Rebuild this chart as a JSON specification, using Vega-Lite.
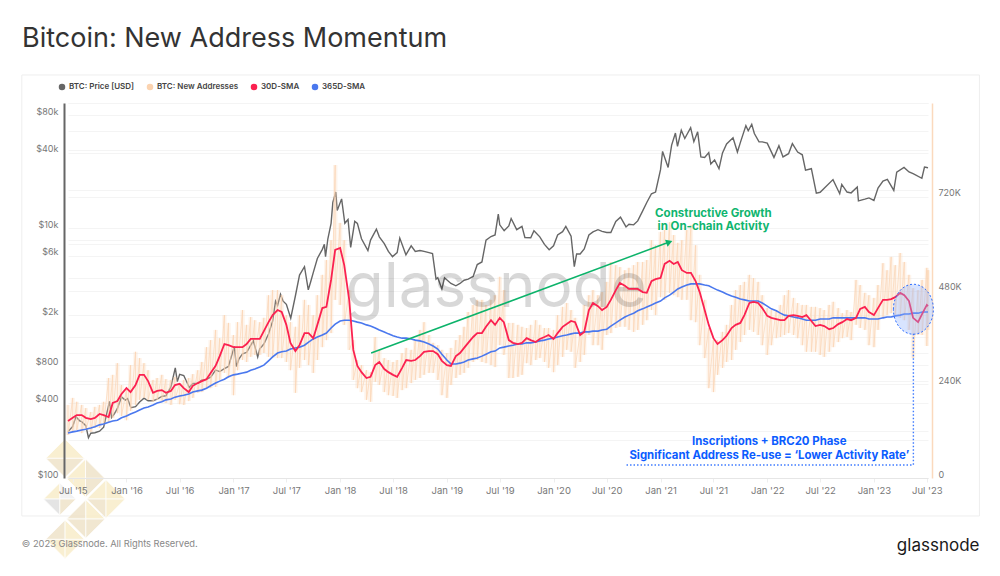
{"$schema":"https://vega.github.io/schema/vega-lite/v6.json","width":860,"height":375,"autosize":"none","padding":{"left":68,"top":103,"right":72,"bottom":98},"background":"white","config":{"view":{"stroke":null},"font":"Inter"},
"title":{"text":"Bitcoin: New Address Momentum","anchor":"start","frame":"group","dx":-46,"offset":21,"fontSize":27,"fontWeight":400,"color":"#333333","font":"Inter"},
"datasets":{
"price":[{"d":"2015-06-15","p":235},{"d":"2015-07-01","p":258},{"d":"2015-07-12","p":310},{"d":"2015-07-24","p":288},{"d":"2015-08-01","p":282},{"d":"2015-08-15","p":262},{"d":"2015-08-24","p":210},{"d":"2015-09-01","p":228},{"d":"2015-09-15","p":230},{"d":"2015-10-01","p":237},{"d":"2015-10-15","p":255},{"d":"2015-11-04","p":410},{"d":"2015-11-11","p":305},{"d":"2015-11-20","p":325},{"d":"2015-12-01","p":360},{"d":"2015-12-15","p":445},{"d":"2015-12-28","p":420},{"d":"2016-01-05","p":432},{"d":"2016-01-16","p":365},{"d":"2016-02-01","p":372},{"d":"2016-02-15","p":405},{"d":"2016-03-01","p":435},{"d":"2016-03-15","p":415},{"d":"2016-04-01","p":415},{"d":"2016-04-15","p":428},{"d":"2016-05-01","p":450},{"d":"2016-05-15","p":455},{"d":"2016-06-01","p":535},{"d":"2016-06-16","p":760},{"d":"2016-06-23","p":590},{"d":"2016-07-01","p":675},{"d":"2016-07-15","p":660},{"d":"2016-08-03","p":530},{"d":"2016-08-15","p":570},{"d":"2016-09-01","p":572},{"d":"2016-09-15","p":608},{"d":"2016-10-01","p":615},{"d":"2016-10-15","p":640},{"d":"2016-11-01","p":730},{"d":"2016-11-15","p":710},{"d":"2016-12-01","p":750},{"d":"2016-12-15","p":780},{"d":"2017-01-04","p":1130},{"d":"2017-01-11","p":780},{"d":"2017-01-20","p":900},{"d":"2017-02-01","p":985},{"d":"2017-02-15","p":1010},{"d":"2017-03-10","p":1250},{"d":"2017-03-25","p":930},{"d":"2017-04-01","p":1080},{"d":"2017-04-15","p":1180},{"d":"2017-05-01","p":1420},{"d":"2017-05-15","p":1800},{"d":"2017-05-25","p":2600},{"d":"2017-06-01","p":2400},{"d":"2017-06-11","p":2950},{"d":"2017-06-20","p":2600},{"d":"2017-07-01","p":2450},{"d":"2017-07-16","p":1900},{"d":"2017-08-01","p":2870},{"d":"2017-08-15","p":4200},{"d":"2017-09-01","p":4900},{"d":"2017-09-14","p":3200},{"d":"2017-09-22","p":3700},{"d":"2017-10-01","p":4400},{"d":"2017-10-15","p":5700},{"d":"2017-11-01","p":6750},{"d":"2017-11-08","p":7400},{"d":"2017-11-12","p":5900},{"d":"2017-11-20","p":8200},{"d":"2017-12-01","p":10900},{"d":"2017-12-07","p":16000},{"d":"2017-12-17","p":19400},{"d":"2017-12-22","p":13800},{"d":"2018-01-06","p":17100},{"d":"2018-01-17","p":10900},{"d":"2018-01-28","p":11700},{"d":"2018-02-06","p":7000},{"d":"2018-02-20","p":11300},{"d":"2018-03-01","p":10900},{"d":"2018-03-15","p":8200},{"d":"2018-04-06","p":6600},{"d":"2018-04-15","p":8000},{"d":"2018-05-05","p":9800},{"d":"2018-05-15","p":8500},{"d":"2018-06-01","p":7500},{"d":"2018-06-15","p":6500},{"d":"2018-06-29","p":5900},{"d":"2018-07-15","p":6350},{"d":"2018-07-24","p":8300},{"d":"2018-08-14","p":6100},{"d":"2018-09-01","p":7200},{"d":"2018-09-15","p":6500},{"d":"2018-10-01","p":6600},{"d":"2018-10-15","p":6500},{"d":"2018-11-01","p":6350},{"d":"2018-11-13","p":6250},{"d":"2018-11-25","p":3900},{"d":"2018-12-01","p":4000},{"d":"2018-12-15","p":3250},{"d":"2018-12-24","p":4000},{"d":"2019-01-15","p":3600},{"d":"2019-02-01","p":3450},{"d":"2019-02-15","p":3600},{"d":"2019-03-01","p":3820},{"d":"2019-03-15","p":3900},{"d":"2019-04-01","p":4100},{"d":"2019-04-15","p":5100},{"d":"2019-05-01","p":5350},{"d":"2019-05-15","p":8000},{"d":"2019-06-01","p":8550},{"d":"2019-06-15","p":8800},{"d":"2019-06-26","p":12900},{"d":"2019-07-01","p":10600},{"d":"2019-07-16","p":9500},{"d":"2019-08-01","p":10400},{"d":"2019-08-09","p":11900},{"d":"2019-08-28","p":9700},{"d":"2019-09-15","p":10300},{"d":"2019-09-25","p":8400},{"d":"2019-10-15","p":8350},{"d":"2019-10-26","p":9500},{"d":"2019-11-15","p":8500},{"d":"2019-12-01","p":7400},{"d":"2019-12-17","p":6700},{"d":"2020-01-01","p":7200},{"d":"2020-01-15","p":8800},{"d":"2020-02-01","p":9350},{"d":"2020-02-12","p":10300},{"d":"2020-03-01","p":8600},{"d":"2020-03-12","p":4900},{"d":"2020-03-20","p":6200},{"d":"2020-04-01","p":6200},{"d":"2020-04-15","p":6800},{"d":"2020-05-01","p":8800},{"d":"2020-05-15","p":9300},{"d":"2020-06-01","p":9700},{"d":"2020-06-15","p":9400},{"d":"2020-07-01","p":9200},{"d":"2020-07-15","p":9200},{"d":"2020-08-01","p":11300},{"d":"2020-08-17","p":12200},{"d":"2020-09-05","p":10200},{"d":"2020-09-15","p":10700},{"d":"2020-10-01","p":10600},{"d":"2020-10-15","p":11400},{"d":"2020-11-01","p":13700},{"d":"2020-11-15","p":16000},{"d":"2020-12-01","p":18800},{"d":"2020-12-15","p":19400},{"d":"2021-01-01","p":29300},{"d":"2021-01-08","p":41000},{"d":"2021-01-27","p":30500},{"d":"2021-02-08","p":46000},{"d":"2021-02-21","p":57500},{"d":"2021-02-28","p":45000},{"d":"2021-03-13","p":60500},{"d":"2021-03-25","p":52000},{"d":"2021-04-14","p":63500},{"d":"2021-04-25","p":49000},{"d":"2021-05-08","p":58800},{"d":"2021-05-19","p":37000},{"d":"2021-06-01","p":36700},{"d":"2021-06-15","p":40100},{"d":"2021-06-22","p":32500},{"d":"2021-07-05","p":35000},{"d":"2021-07-20","p":29800},{"d":"2021-08-01","p":39900},{"d":"2021-08-15","p":47000},{"d":"2021-09-06","p":52700},{"d":"2021-09-21","p":40500},{"d":"2021-10-01","p":48200},{"d":"2021-10-20","p":65900},{"d":"2021-10-28","p":60000},{"d":"2021-11-09","p":67500},{"d":"2021-11-18","p":57000},{"d":"2021-12-04","p":49000},{"d":"2021-12-15","p":48900},{"d":"2022-01-01","p":47700},{"d":"2022-01-24","p":36700},{"d":"2022-02-10","p":45500},{"d":"2022-02-24","p":37000},{"d":"2022-03-15","p":39300},{"d":"2022-03-28","p":47300},{"d":"2022-04-15","p":40500},{"d":"2022-05-01","p":38500},{"d":"2022-05-12","p":29000},{"d":"2022-06-01","p":29800},{"d":"2022-06-18","p":19000},{"d":"2022-07-01","p":19300},{"d":"2022-07-15","p":20800},{"d":"2022-08-14","p":24400},{"d":"2022-09-06","p":18800},{"d":"2022-09-13","p":22300},{"d":"2022-10-01","p":19400},{"d":"2022-10-15","p":19100},{"d":"2022-11-05","p":21300},{"d":"2022-11-09","p":16500},{"d":"2022-12-01","p":17000},{"d":"2022-12-15","p":17400},{"d":"2023-01-01","p":16600},{"d":"2023-01-15","p":20900},{"d":"2023-02-01","p":23700},{"d":"2023-02-16","p":24500},{"d":"2023-03-10","p":20000},{"d":"2023-03-20","p":28000},{"d":"2023-04-14","p":30500},{"d":"2023-05-01","p":28100},{"d":"2023-05-15","p":27200},{"d":"2023-06-14","p":25000},{"d":"2023-06-23","p":30700},{"d":"2023-07-01","p":30500},{"d":"2023-07-05","p":30300}],
"addr":[
{"d":"2015-06-15","hi":187000,"lo":110000,"s30":146000,"s365":115000},{"d":"2015-07-01","hi":205000,"lo":118000,"s30":154000,"s365":118000},{"d":"2015-07-15","hi":195000,"lo":123000,"s30":161000,"s365":120000},{"d":"2015-08-01","hi":187000,"lo":115000,"s30":161000,"s365":123000},{"d":"2015-08-15","hi":179000,"lo":123000,"s30":154000,"s365":125000},{"d":"2015-09-01","hi":169000,"lo":118000,"s30":151000,"s365":128000},{"d":"2015-09-15","hi":182000,"lo":128000,"s30":154000,"s365":131000},{"d":"2015-10-01","hi":187000,"lo":128000,"s30":164000,"s365":136000},{"d":"2015-10-15","hi":195000,"lo":136000,"s30":161000,"s365":138000},{"d":"2015-11-01","hi":256000,"lo":141000,"s30":156000,"s365":143000},{"d":"2015-11-15","hi":264000,"lo":154000,"s30":192000,"s365":146000},{"d":"2015-12-01","hi":294000,"lo":166000,"s30":197000,"s365":148000},{"d":"2015-12-15","hi":238000,"lo":159000,"s30":215000,"s365":154000},
{"d":"2016-01-01","hi":225000,"lo":148000,"s30":230000,"s365":159000},{"d":"2016-01-15","hi":289000,"lo":172000,"s30":220000,"s365":164000},{"d":"2016-02-01","hi":323000,"lo":187000,"s30":238000,"s365":169000},{"d":"2016-02-15","hi":307000,"lo":200000,"s30":264000,"s365":174000},{"d":"2016-03-01","hi":294000,"lo":205000,"s30":264000,"s365":179000},{"d":"2016-03-15","hi":276000,"lo":200000,"s30":248000,"s365":182000},{"d":"2016-04-01","hi":251000,"lo":195000,"s30":218000,"s365":187000},{"d":"2016-04-15","hi":256000,"lo":200000,"s30":223000,"s365":192000},{"d":"2016-05-01","hi":264000,"lo":195000,"s30":225000,"s365":195000},{"d":"2016-05-15","hi":253000,"lo":192000,"s30":218000,"s365":200000},{"d":"2016-06-01","hi":251000,"lo":187000,"s30":223000,"s365":202000},{"d":"2016-06-15","hi":259000,"lo":200000,"s30":238000,"s365":207000},{"d":"2016-07-01","hi":243000,"lo":189000,"s30":241000,"s365":210000},{"d":"2016-07-15","hi":251000,"lo":187000,"s30":230000,"s365":212000},{"d":"2016-08-01","hi":256000,"lo":197000,"s30":220000,"s365":215000},{"d":"2016-08-15","hi":266000,"lo":205000,"s30":236000,"s365":220000},{"d":"2016-09-01","hi":276000,"lo":218000,"s30":243000,"s365":223000},{"d":"2016-09-15","hi":297000,"lo":220000,"s30":248000,"s365":225000},{"d":"2016-10-01","hi":335000,"lo":230000,"s30":253000,"s365":230000},{"d":"2016-10-15","hi":353000,"lo":230000,"s30":269000,"s365":236000},{"d":"2016-11-01","hi":379000,"lo":233000,"s30":287000,"s365":243000},{"d":"2016-11-15","hi":358000,"lo":251000,"s30":312000,"s365":248000},{"d":"2016-12-01","hi":417000,"lo":269000,"s30":343000,"s365":253000},{"d":"2016-12-15","hi":397000,"lo":256000,"s30":340000,"s365":259000},
{"d":"2017-01-01","hi":366000,"lo":212000,"s30":335000,"s365":264000},{"d":"2017-01-15","hi":399000,"lo":276000,"s30":335000,"s365":266000},{"d":"2017-02-01","hi":430000,"lo":302000,"s30":335000,"s365":269000},{"d":"2017-02-15","hi":392000,"lo":297000,"s30":343000,"s365":271000},{"d":"2017-03-01","hi":412000,"lo":310000,"s30":356000,"s365":276000},{"d":"2017-03-15","hi":404000,"lo":315000,"s30":356000,"s365":279000},{"d":"2017-04-01","hi":399000,"lo":315000,"s30":356000,"s365":284000},{"d":"2017-04-15","hi":410000,"lo":320000,"s30":376000,"s365":289000},{"d":"2017-05-01","hi":468000,"lo":310000,"s30":399000,"s365":300000},{"d":"2017-05-15","hi":481000,"lo":307000,"s30":417000,"s365":310000},{"d":"2017-06-01","hi":481000,"lo":307000,"s30":430000,"s365":320000},{"d":"2017-06-15","hi":468000,"lo":307000,"s30":425000,"s365":323000},{"d":"2017-07-01","hi":417000,"lo":297000,"s30":392000,"s365":325000},{"d":"2017-07-15","hi":399000,"lo":276000,"s30":346000,"s365":330000},{"d":"2017-08-01","hi":387000,"lo":218000,"s30":325000,"s365":333000},{"d":"2017-08-15","hi":417000,"lo":282000,"s30":340000,"s365":335000},{"d":"2017-09-01","hi":456000,"lo":302000,"s30":371000,"s365":340000},{"d":"2017-09-15","hi":443000,"lo":289000,"s30":371000,"s365":348000},{"d":"2017-10-01","hi":417000,"lo":269000,"s30":358000,"s365":356000},{"d":"2017-10-15","hi":468000,"lo":302000,"s30":392000,"s365":361000},{"d":"2017-11-01","hi":520000,"lo":335000,"s30":435000,"s365":366000},{"d":"2017-11-15","hi":558000,"lo":353000,"s30":438000,"s365":371000},{"d":"2017-12-01","hi":609000,"lo":371000,"s30":507000,"s365":384000},{"d":"2017-12-15","hi":801000,"lo":456000,"s30":584000,"s365":394000},
{"d":"2018-01-01","hi":653000,"lo":443000,"s30":589000,"s365":402000},{"d":"2018-01-15","hi":609000,"lo":392000,"s30":545000,"s365":404000},{"d":"2018-02-01","hi":481000,"lo":328000,"s30":456000,"s365":404000},{"d":"2018-02-15","hi":353000,"lo":251000,"s30":328000,"s365":402000},{"d":"2018-03-01","hi":302000,"lo":230000,"s30":287000,"s365":399000},{"d":"2018-03-15","hi":289000,"lo":220000,"s30":271000,"s365":397000},{"d":"2018-04-01","hi":276000,"lo":200000,"s30":256000,"s365":392000},{"d":"2018-04-15","hi":271000,"lo":195000,"s30":259000,"s365":389000},{"d":"2018-05-01","hi":361000,"lo":246000,"s30":289000,"s365":384000},{"d":"2018-05-15","hi":328000,"lo":238000,"s30":297000,"s365":379000},{"d":"2018-06-01","hi":307000,"lo":220000,"s30":279000,"s365":374000},{"d":"2018-06-15","hi":302000,"lo":212000,"s30":271000,"s365":369000},{"d":"2018-07-01","hi":297000,"lo":210000,"s30":264000,"s365":364000},{"d":"2018-07-15","hi":302000,"lo":205000,"s30":259000,"s365":361000},{"d":"2018-08-01","hi":320000,"lo":225000,"s30":282000,"s365":358000},{"d":"2018-08-15","hi":333000,"lo":230000,"s30":302000,"s365":358000},{"d":"2018-09-01","hi":328000,"lo":243000,"s30":300000,"s365":356000},{"d":"2018-09-15","hi":353000,"lo":251000,"s30":302000,"s365":353000},{"d":"2018-10-01","hi":379000,"lo":256000,"s30":312000,"s365":351000},{"d":"2018-10-15","hi":399000,"lo":264000,"s30":323000,"s365":348000},{"d":"2018-11-01","hi":366000,"lo":269000,"s30":325000,"s365":343000},{"d":"2018-11-15","hi":346000,"lo":269000,"s30":325000,"s365":338000},{"d":"2018-12-01","hi":340000,"lo":251000,"s30":317000,"s365":330000},{"d":"2018-12-15","hi":328000,"lo":212000,"s30":300000,"s365":317000},
{"d":"2019-01-01","hi":320000,"lo":205000,"s30":289000,"s365":302000},{"d":"2019-01-15","hi":333000,"lo":238000,"s30":287000,"s365":292000},{"d":"2019-02-01","hi":353000,"lo":256000,"s30":312000,"s365":292000},{"d":"2019-02-15","hi":366000,"lo":264000,"s30":320000,"s365":294000},{"d":"2019-03-01","hi":387000,"lo":269000,"s30":333000,"s365":297000},{"d":"2019-03-15","hi":425000,"lo":282000,"s30":346000,"s365":302000},{"d":"2019-04-01","hi":443000,"lo":297000,"s30":361000,"s365":305000},{"d":"2019-04-15","hi":456000,"lo":302000,"s30":371000,"s365":307000},{"d":"2019-05-01","hi":456000,"lo":297000,"s30":371000,"s365":312000},{"d":"2019-05-15","hi":443000,"lo":294000,"s30":387000,"s365":317000},{"d":"2019-06-01","hi":456000,"lo":289000,"s30":404000,"s365":323000},{"d":"2019-06-15","hi":468000,"lo":284000,"s30":392000,"s365":325000},{"d":"2019-07-01","hi":515000,"lo":340000,"s30":410000,"s365":333000},{"d":"2019-07-15","hi":481000,"lo":315000,"s30":399000,"s365":335000},{"d":"2019-08-01","hi":397000,"lo":256000,"s30":353000,"s365":338000},{"d":"2019-08-15","hi":397000,"lo":256000,"s30":346000,"s365":340000},{"d":"2019-09-01","hi":392000,"lo":259000,"s30":343000,"s365":343000},{"d":"2019-09-15","hi":387000,"lo":264000,"s30":346000,"s365":343000},{"d":"2019-10-01","hi":384000,"lo":294000,"s30":358000,"s365":346000},{"d":"2019-10-15","hi":392000,"lo":289000,"s30":353000,"s365":346000},{"d":"2019-11-01","hi":404000,"lo":302000,"s30":348000,"s365":348000},{"d":"2019-11-15","hi":392000,"lo":307000,"s30":356000,"s365":351000},{"d":"2019-12-01","hi":384000,"lo":297000,"s30":361000,"s365":353000},{"d":"2019-12-15","hi":384000,"lo":282000,"s30":366000,"s365":356000},
{"d":"2020-01-01","hi":379000,"lo":271000,"s30":356000,"s365":358000},{"d":"2020-01-15","hi":417000,"lo":289000,"s30":371000,"s365":361000},{"d":"2020-02-01","hi":438000,"lo":310000,"s30":387000,"s365":364000},{"d":"2020-02-15","hi":448000,"lo":328000,"s30":394000,"s365":366000},{"d":"2020-03-01","hi":430000,"lo":323000,"s30":402000,"s365":369000},{"d":"2020-03-15","hi":410000,"lo":282000,"s30":399000,"s365":371000},{"d":"2020-04-01","hi":371000,"lo":297000,"s30":366000,"s365":371000},{"d":"2020-04-15","hi":443000,"lo":315000,"s30":374000,"s365":374000},{"d":"2020-05-01","hi":468000,"lo":366000,"s30":430000,"s365":374000},{"d":"2020-05-15","hi":481000,"lo":340000,"s30":448000,"s365":376000},{"d":"2020-06-01","hi":468000,"lo":340000,"s30":440000,"s365":376000},{"d":"2020-06-15","hi":476000,"lo":328000,"s30":430000,"s365":379000},{"d":"2020-07-01","hi":502000,"lo":366000,"s30":438000,"s365":381000},{"d":"2020-07-15","hi":553000,"lo":371000,"s30":456000,"s365":389000},{"d":"2020-08-01","hi":545000,"lo":384000,"s30":481000,"s365":397000},{"d":"2020-08-15","hi":540000,"lo":387000,"s30":499000,"s365":404000},{"d":"2020-09-01","hi":532000,"lo":387000,"s30":492000,"s365":412000},{"d":"2020-09-15","hi":538000,"lo":379000,"s30":484000,"s365":417000},{"d":"2020-10-01","hi":545000,"lo":374000,"s30":484000,"s365":422000},{"d":"2020-10-15","hi":553000,"lo":379000,"s30":484000,"s365":428000},{"d":"2020-11-01","hi":553000,"lo":392000,"s30":476000,"s365":433000},{"d":"2020-11-15","hi":558000,"lo":404000,"s30":474000,"s365":438000},{"d":"2020-12-01","hi":609000,"lo":430000,"s30":504000,"s365":443000},{"d":"2020-12-15","hi":596000,"lo":417000,"s30":509000,"s365":448000},
{"d":"2021-01-01","hi":630000,"lo":463000,"s30":512000,"s365":453000},{"d":"2021-01-15","hi":635000,"lo":456000,"s30":548000,"s365":461000},{"d":"2021-02-01","hi":655000,"lo":474000,"s30":556000,"s365":468000},{"d":"2021-02-15","hi":622000,"lo":468000,"s30":548000,"s365":476000},{"d":"2021-03-01","hi":602000,"lo":463000,"s30":553000,"s365":484000},{"d":"2021-03-15","hi":609000,"lo":456000,"s30":532000,"s365":489000},{"d":"2021-04-01","hi":635000,"lo":456000,"s30":525000,"s365":494000},{"d":"2021-04-15","hi":648000,"lo":404000,"s30":525000,"s365":497000},{"d":"2021-05-01","hi":596000,"lo":399000,"s30":504000,"s365":497000},{"d":"2021-05-15","hi":520000,"lo":340000,"s30":476000,"s365":497000},{"d":"2021-06-01","hi":456000,"lo":307000,"s30":430000,"s365":494000},{"d":"2021-06-15","hi":384000,"lo":230000,"s30":392000,"s365":492000},{"d":"2021-07-01","hi":353000,"lo":220000,"s30":358000,"s365":486000},{"d":"2021-07-15","hi":353000,"lo":264000,"s30":343000,"s365":481000},{"d":"2021-08-01","hi":374000,"lo":282000,"s30":353000,"s365":476000},{"d":"2021-08-15","hi":392000,"lo":297000,"s30":364000,"s365":471000},{"d":"2021-09-01","hi":443000,"lo":302000,"s30":384000,"s365":466000},{"d":"2021-09-15","hi":481000,"lo":328000,"s30":392000,"s365":463000},{"d":"2021-10-01","hi":494000,"lo":348000,"s30":397000,"s365":458000},{"d":"2021-10-15","hi":502000,"lo":366000,"s30":417000,"s365":456000},{"d":"2021-11-01","hi":520000,"lo":379000,"s30":448000,"s365":453000},{"d":"2021-11-15","hi":512000,"lo":374000,"s30":451000,"s365":453000},{"d":"2021-12-01","hi":502000,"lo":366000,"s30":448000,"s365":453000},{"d":"2021-12-15","hi":468000,"lo":340000,"s30":435000,"s365":448000},
{"d":"2022-01-01","hi":435000,"lo":315000,"s30":415000,"s365":440000},{"d":"2022-01-15","hi":430000,"lo":340000,"s30":410000,"s365":433000},{"d":"2022-02-01","hi":430000,"lo":358000,"s30":407000,"s365":428000},{"d":"2022-02-15","hi":443000,"lo":361000,"s30":404000,"s365":422000},{"d":"2022-03-01","hi":468000,"lo":366000,"s30":404000,"s365":417000},{"d":"2022-03-15","hi":481000,"lo":371000,"s30":415000,"s365":415000},{"d":"2022-04-01","hi":461000,"lo":366000,"s30":417000,"s365":412000},{"d":"2022-04-15","hi":448000,"lo":358000,"s30":415000,"s365":410000},{"d":"2022-05-01","hi":443000,"lo":340000,"s30":412000,"s365":407000},{"d":"2022-05-15","hi":443000,"lo":323000,"s30":417000,"s365":404000},{"d":"2022-06-01","hi":438000,"lo":323000,"s30":402000,"s365":404000},{"d":"2022-06-15","hi":438000,"lo":323000,"s30":389000,"s365":404000},{"d":"2022-07-01","hi":435000,"lo":315000,"s30":392000,"s365":407000},{"d":"2022-07-15","hi":430000,"lo":310000,"s30":389000,"s365":407000},{"d":"2022-08-01","hi":443000,"lo":323000,"s30":381000,"s365":407000},{"d":"2022-08-15","hi":451000,"lo":335000,"s30":384000,"s365":410000},{"d":"2022-09-01","hi":435000,"lo":348000,"s30":394000,"s365":410000},{"d":"2022-09-15","hi":422000,"lo":358000,"s30":399000,"s365":410000},{"d":"2022-10-01","hi":430000,"lo":361000,"s30":407000,"s365":410000},{"d":"2022-10-15","hi":425000,"lo":353000,"s30":404000,"s365":410000},{"d":"2022-11-01","hi":507000,"lo":392000,"s30":410000,"s365":410000},{"d":"2022-11-15","hi":494000,"lo":384000,"s30":433000,"s365":410000},{"d":"2022-12-01","hi":474000,"lo":379000,"s30":438000,"s365":410000},{"d":"2022-12-15","hi":468000,"lo":340000,"s30":425000,"s365":407000},
{"d":"2023-01-01","hi":461000,"lo":335000,"s30":417000,"s365":407000},{"d":"2023-01-15","hi":494000,"lo":379000,"s30":435000,"s365":407000},{"d":"2023-02-01","hi":550000,"lo":412000,"s30":456000,"s365":410000},{"d":"2023-02-15","hi":532000,"lo":417000,"s30":456000,"s365":412000},{"d":"2023-03-01","hi":566000,"lo":422000,"s30":458000,"s365":412000},{"d":"2023-03-15","hi":545000,"lo":417000,"s30":463000,"s365":415000},{"d":"2023-04-01","hi":576000,"lo":410000,"s30":474000,"s365":417000},{"d":"2023-04-15","hi":553000,"lo":404000,"s30":468000,"s365":420000},{"d":"2023-05-01","hi":520000,"lo":379000,"s30":453000,"s365":420000},{"d":"2023-05-15","hi":486000,"lo":307000,"s30":410000,"s365":422000},{"d":"2023-06-01","hi":481000,"lo":366000,"s30":399000,"s365":422000},{"d":"2023-06-15","hi":507000,"lo":366000,"s30":420000,"s365":425000},{"d":"2023-07-01","hi":538000,"lo":338000,"s30":443000,"s365":425000},{"d":"2023-07-05","hi":532000,"lo":379000,"s30":440000,"s365":425000}],
"tiles":[
{"d":"2015-06-05","v":50400,"q":"tl","t":"a"},{"d":"2015-06-05","v":50400,"q":"tr","t":"a"},{"d":"2015-06-05","v":50400,"q":"bl","t":"b"},{"d":"2015-06-05","v":50400,"q":"br","t":"b"},
{"d":"2015-08-14","v":-800,"q":"tl","t":"a"},{"d":"2015-08-14","v":-800,"q":"tr","t":"b"},{"d":"2015-08-14","v":-800,"q":"bl","t":"a"},{"d":"2015-08-14","v":-800,"q":"br","t":"b"},
{"d":"2015-10-23","v":-53800,"q":"tl","t":"a"},{"d":"2015-10-23","v":-53800,"q":"tr","t":"a"},{"d":"2015-10-23","v":-53800,"q":"bl","t":"b"},{"d":"2015-10-23","v":-53800,"q":"br","t":"a"},
{"d":"2015-08-15","v":-105000,"q":"tl","t":"b"},{"d":"2015-08-15","v":-105000,"q":"tr","t":"a"},{"d":"2015-08-15","v":-105000,"q":"bl","t":"b"},{"d":"2015-08-15","v":-105000,"q":"br","t":"b"},
{"d":"2015-06-05","v":-157000,"q":"tl","t":"b"},{"d":"2015-06-05","v":-157000,"q":"tr","t":"a"},{"d":"2015-06-05","v":-157000,"q":"bl","t":"a"},{"d":"2015-06-05","v":-157000,"q":"br","t":"a"}],
"tilesSmall":[{"d":"2015-05-18","v":-53800,"q":"tl","t":"a"},{"d":"2015-05-18","v":-53800,"q":"tr","t":"d"},{"d":"2015-05-18","v":-53800,"q":"bl","t":"c"},{"d":"2015-05-18","v":-53800,"q":"br","t":"b"}]
},
"layer":[
{"data":{"values":[{"a":"2015-01-08","b":"2023-12-28","top":167500,"bot":49.7}]},"mark":{"type":"rect","fill":null,"stroke":"#eeeeee","strokeWidth":1},
"encoding":{"x":{"field":"a","type":"temporal"},"x2":{"field":"b"},"y":{"field":"top","type":"quantitative","scale":{"type":"log","domain":[100,100000]},"axis":{"title":null,"orient":"left","zindex":0,"values":[100,200,400,600,800,1000,2000,4000,6000,8000,10000,20000,40000,60000,80000,100000],"grid":true,"gridColor":"#f4f4f4","labels":false,"ticks":false,"domain":false}},"y2":{"field":"bot"}}},
{"data":{"name":"price"},"mark":{"type":"line","strokeWidth":1.4,"interpolate":"linear"},
"encoding":{"x":{"field":"d","type":"temporal","scale":{"domain":["2015-06-15","2023-07-05"]},"axis":{"title":null,"zindex":1,"values":[{"year":2015,"month":"jul","date":1},{"year":2016,"month":"jan","date":1},{"year":2016,"month":"jul","date":1},{"year":2017,"month":"jan","date":1},{"year":2017,"month":"jul","date":1},{"year":2018,"month":"jan","date":1},{"year":2018,"month":"jul","date":1},{"year":2019,"month":"jan","date":1},{"year":2019,"month":"jul","date":1},{"year":2020,"month":"jan","date":1},{"year":2020,"month":"jul","date":1},{"year":2021,"month":"jan","date":1},{"year":2021,"month":"jul","date":1},{"year":2022,"month":"jan","date":1},{"year":2022,"month":"jul","date":1},{"year":2023,"month":"jan","date":1},{"year":2023,"month":"jul","date":1}],"format":"%b '%y","labelOverlap":false,"grid":false,"domainColor":"#e6e6e6","tickColor":"#eeeeee","tickSize":4,"labelColor":"#777777","labelFontSize":9.5,"labelFont":"Inter","labelPadding":3}},
"y":{"field":"p","type":"quantitative","scale":{"type":"log","domain":[100,100000]},"axis":{"title":null,"zindex":1,"orient":"left","offset":4,"values":[100,400,800,2000,6000,10000,40000,80000],"labelExpr":"datum.value<1000?'$'+datum.value:'$'+(datum.value/1000)+'k'","labelOverlap":false,"labelOffset":-4,"ticks":false,"grid":false,"domainColor":"#666666","domainWidth":2,"labelColor":"#777777","labelFontSize":9,"labelFont":"Inter","labelPadding":6}},
"color":{"datum":"BTC: Price [USD]","type":"nominal","scale":{"domain":["BTC: Price [USD]","BTC: New Addresses","30D-SMA","365D-SMA"],"range":["#666666","#fbd3b0","#fb2150","#4a78ee"]},"legend":{"title":null,"orient":"none","legendX":-10,"legendY":-20,"direction":"horizontal","columns":4,"symbolType":"circle","symbolSize":42,"symbolStrokeWidth":0,"symbolOpacity":1,"labelFont":"Inter","labelFontSize":8,"labelFontWeight":600,"labelColor":"#444444","labelOffset":3,"columnPadding":11,"padding":0,"encode":{"symbols":{"update":{"fill":{"scale":"color","field":"value"},"opacity":{"value":1}}}}}}}},
{"data":{"name":"addr"},"mark":{"type":"rule","strokeWidth":4.4,"opacity":0.26},
"encoding":{"x":{"field":"d","type":"temporal"},"y":{"field":"hi","type":"quantitative","scale":{"domain":[0,960000]},"axis":{"title":null,"orient":"right","offset":4,"values":[0,120000,240000,360000,480000,600000,720000,840000,960000],"labelExpr":"datum.value==0?'0':(datum.value%240000==0&&datum.value<960000?(datum.value/1000)+'K':'')","labelOverlap":false,"labelOffset":-4,"ticks":false,"grid":true,"gridColor":"#f4f4f4","domainColor":"#fbd9bd","domainWidth":1.5,"labelColor":"#777777","labelFontSize":9,"labelFont":"Inter","labelPadding":6}},"y2":{"field":"lo"},"color":{"datum":"BTC: New Addresses","type":"nominal"}}},
{"data":{"name":"addr"},"transform":[{"fold":["hi","lo"],"as":["band","bv"]},{"window":[{"op":"row_number","as":"i"}]}],"mark":{"type":"line","stroke":"#fbd3b0","strokeWidth":1,"opacity":0.65},
"encoding":{"x":{"field":"d","type":"temporal"},"y":{"field":"bv","type":"quantitative","scale":{"domain":[0,960000]},"axis":null},"order":{"field":"i"}}},
{"data":{"values":[{"d":"2019-06-19","v":438000,"label":"glassnode"}]},"mark":{"type":"text","font":"Inter","fontSize":62,"fontWeight":400,"fill":"#000000","opacity":0.15,"align":"center","baseline":"alphabetic"},
"encoding":{"x":{"field":"d","type":"temporal"},"y":{"field":"v","type":"quantitative","scale":{"domain":[0,960000]},"axis":null},"text":{"field":"label"}}},
{"data":{"name":"addr"},"mark":{"type":"line","strokeWidth":1.6},
"encoding":{"x":{"field":"d","type":"temporal"},"y":{"field":"s365","type":"quantitative","scale":{"domain":[0,960000]},"axis":null},"color":{"datum":"365D-SMA","type":"nominal"}}},
{"data":{"name":"addr"},"mark":{"type":"line","strokeWidth":1.8},
"encoding":{"x":{"field":"d","type":"temporal"},"y":{"field":"s30","type":"quantitative","scale":{"domain":[0,960000]},"axis":null},"color":{"datum":"30D-SMA","type":"nominal"}}},
{"data":{"values":[{"d":"2018-04-17","v":320000},{"d":"2021-01-31","v":604000}]},"mark":{"type":"line","stroke":"#0cb36a","strokeWidth":1.5},
"encoding":{"x":{"field":"d","type":"temporal"},"y":{"field":"v","type":"quantitative","scale":{"domain":[0,960000]},"axis":null}}},
{"data":{"values":[{"d":"2021-01-31","v":604000}]},"mark":{"type":"point","shape":"triangle-up","filled":true,"fill":"#0cb36a","opacity":1,"size":55,"angle":70},
"encoding":{"x":{"field":"d","type":"temporal"},"y":{"field":"v","type":"quantitative","scale":{"domain":[0,960000]},"axis":null}}},
{"data":{"values":[{"d":"2021-07-01","v":676000,"label":"Constructive Growth"},{"d":"2021-07-01","v":643000,"label":"in On-chain Activity"}]},"mark":{"type":"text","font":"Inter","fontSize":11.5,"fontWeight":700,"fill":"#0fb56f","align":"center","baseline":"middle"},
"encoding":{"x":{"field":"d","type":"temporal"},"y":{"field":"v","type":"quantitative","scale":{"domain":[0,960000]},"axis":null},"text":{"field":"label"}}},
{"data":{"values":[{"d":"2023-05-16","v":369000,"i":1},{"d":"2023-05-16","v":33280,"i":2},{"d":"2020-09-06","v":33280,"i":3}]},"mark":{"type":"line","stroke":"#3f7bff","strokeWidth":1.4,"strokeDash":[1.5,2]},
"encoding":{"x":{"field":"d","type":"temporal"},"y":{"field":"v","type":"quantitative","scale":{"domain":[0,960000]},"axis":null},"order":{"field":"i"}}},
{"data":{"values":[{"d":"2023-05-16","v":432000}]},"mark":{"type":"point","shape":"M-0.8,0A0.8,1,0,1,1,0.8,0A0.8,1,0,1,1,-0.8,0Z","filled":true,"size":2500,"fill":"#8fb3ff","fillOpacity":0.35,"stroke":"#2f6fff","strokeWidth":1,"strokeOpacity":1,"strokeDash":[2,2],"opacity":1},
"encoding":{"x":{"field":"d","type":"temporal"},"y":{"field":"v","type":"quantitative","scale":{"domain":[0,960000]},"axis":null}}},
{"data":{"values":[{"d":"2022-01-08","v":92000,"label":"Inscriptions + BRC20 Phase"},{"d":"2022-01-08","v":56000,"label":"Significant Address Re-use = ‘Lower Activity Rate’"}]},"mark":{"type":"text","font":"Inter","fontSize":11.4,"fontWeight":700,"fill":"#0b5cff","align":"center","baseline":"middle"},
"encoding":{"x":{"field":"d","type":"temporal"},"y":{"field":"v","type":"quantitative","scale":{"domain":[0,960000]},"axis":null},"text":{"field":"label"}}},
{"data":{"name":"tiles"},"mark":{"type":"point","filled":true,"size":1490,"stroke":"#ffffff","strokeWidth":0.8,"opacity":0.85},
"encoding":{"x":{"field":"d","type":"temporal"},"y":{"field":"v","type":"quantitative","scale":{"domain":[0,960000]},"axis":null},"shape":{"field":"q","type":"nominal","scale":{"domain":["tl","tr","bl","br"],"range":["M-1,0L0,-1L0,0Z","M1,0L0,-1L0,0Z","M-1,0L0,1L0,0Z","M1,0L0,1L0,0Z"]},"legend":null},"fill":{"field":"t","type":"nominal","scale":{"domain":["a","b","c","d"],"range":["#f9edc9","#efe3c9","#e0e0e0","#f0f0f0"]},"legend":null}}},
{"data":{"name":"tilesSmall"},"mark":{"type":"point","filled":true,"size":1063,"stroke":"#ffffff","strokeWidth":0.8,"opacity":0.85},
"encoding":{"x":{"field":"d","type":"temporal"},"y":{"field":"v","type":"quantitative","scale":{"domain":[0,960000]},"axis":null},"shape":{"field":"q","type":"nominal","legend":null},"fill":{"field":"t","type":"nominal","legend":null}}},
{"data":{"values":[{"d":"2015-01-08","v":-177000,"label":"© 2023 Glassnode. All Rights Reserved."}]},"mark":{"type":"text","font":"Inter","fontSize":9.3,"fill":"#888888","align":"left","baseline":"alphabetic"},
"encoding":{"x":{"field":"d","type":"temporal"},"y":{"field":"v","type":"quantitative","scale":{"domain":[0,960000]},"axis":null},"text":{"field":"label"}}},
{"data":{"values":[{"d":"2023-12-28","v":-187000,"label":"glassnode"}]},"mark":{"type":"text","font":"Inter","fontSize":17,"fontWeight":400,"fill":"#1a1a1a","align":"right","baseline":"alphabetic"},
"encoding":{"x":{"field":"d","type":"temporal"},"y":{"field":"v","type":"quantitative","scale":{"domain":[0,960000]},"axis":null},"text":{"field":"label"}}}
],
"resolve":{"scale":{"y":"independent"},"axis":{"y":"independent"}}}
